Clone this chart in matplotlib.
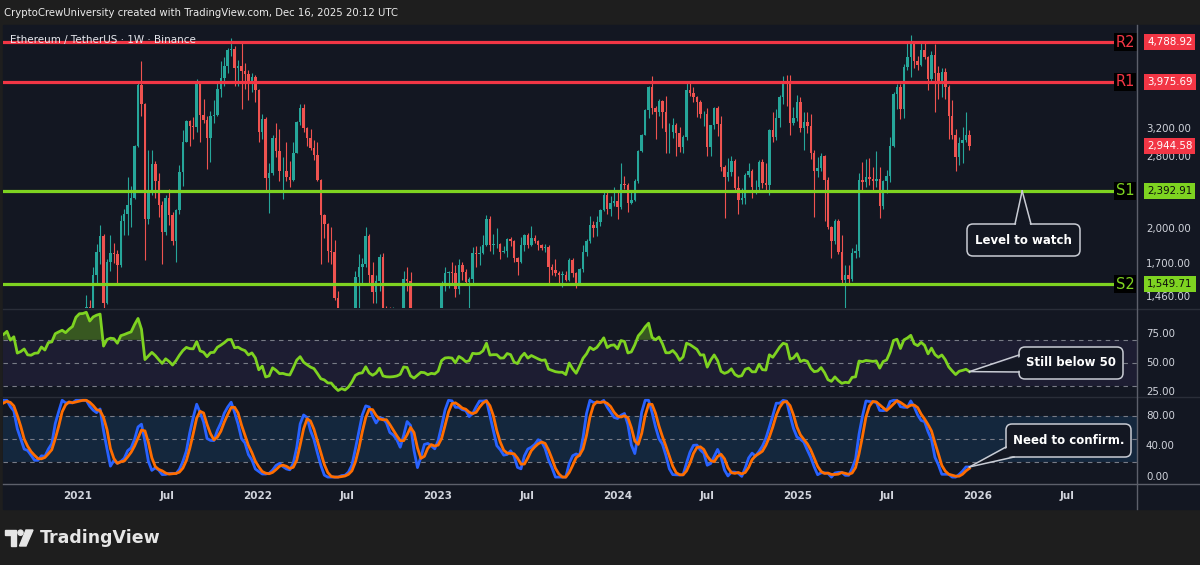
import numpy as np
import pandas as pd
import matplotlib
matplotlib.use("Agg")
import matplotlib.pyplot as plt
import matplotlib.dates as mdates
import matplotlib.transforms as mtransforms
from matplotlib.patches import Rectangle, Polygon, Circle, FancyBboxPatch
from matplotlib.lines import Line2D

# ETH/USDT weekly candles (Binance, 1W), one value per week, weeks start Monday 2019-07-01
first_open = 290.0

close_2019 = [307, 227, 217, 206, 222, 208, 195, 186, 178, 181,
              197, 211, 168, 170, 187, 172, 184, 186, 187, 181,
              151, 151, 148, 132, 132, 134, 136]
high_2019 = [320, 315, 240, 225, 235, 240, 215, 200, 195, 185,
             200, 225, 215, 185, 195, 195, 195, 190, 192, 190,
             184, 160, 155, 149, 135, 137, 145]
low_2019 = [285, 215, 200, 200, 203, 205, 180, 180, 172, 165,
            175, 194, 155, 164, 165, 168, 160, 176, 180, 178,
            140, 139, 142, 130, 117, 126, 128]

close_2020 = [146, 170, 167, 189, 223, 267, 262, 218, 201, 124,
              131, 131, 143, 158, 171, 197, 211, 187, 199, 202,
              231, 244, 233, 231, 225, 241, 239, 236, 310, 385,
              395, 428, 396, 428, 353, 365, 385, 355, 353, 366,
              368, 409, 396, 454, 461, 550, 575, 599, 589, 639,
              685, 975]
high_2020 = [149, 175, 172, 190, 229, 289, 288, 280, 252, 208,
             150, 145, 150, 177, 188, 200, 227, 216, 206, 215,
             244, 252, 250, 241, 247, 243, 249, 245, 320, 415,
             405, 445, 445, 480, 488, 378, 395, 385, 365, 378,
             394, 420, 420, 462, 480, 560, 620, 635, 600, 678,
             690, 1010]
low_2020 = [134, 143, 157, 160, 186, 217, 248, 212, 200, 90,
            110, 125, 128, 140, 150, 167, 187, 178, 177, 193,
            199, 222, 230, 222, 220, 223, 234, 230, 235, 305,
            365, 368, 375, 376, 308, 332, 352, 310, 336, 332,
            357, 363, 370, 380, 440, 458, 480, 562, 530, 581,
            560, 660]

close_2021 = [1230, 1250, 1390, 1315, 1615, 1800, 1935, 1416, 1720, 1795,
              1785, 1690, 2080, 2150, 2240, 2320, 2950, 3920, 3580, 2100,
              2390, 2710, 2510, 2240, 1980, 2320, 2140, 1895, 2190, 2610,
              3010, 3310, 3240, 3230, 3930, 3410, 3330, 3060, 3390, 3410,
              3850, 4050, 4290, 4610, 4630, 4240, 4290, 4190, 4130, 3930,
              4060, 3830]
high_2021 = [1350, 1290, 1475, 1440, 1680, 1870, 2040, 1960, 1740, 1950,
             1875, 1820, 2140, 2200, 2550, 2450, 2960, 3980, 4380, 3600,
             2900, 2900, 2750, 2600, 2280, 2350, 2410, 2170, 2200, 2700,
             3180, 3330, 3330, 3370, 4030, 3970, 3680, 3400, 3480, 3650,
             3950, 4380, 4460, 4650, 4870, 4700, 4400, 4780, 4350, 4200,
             4150, 4100]
low_2021 = [880, 960, 1040, 1220, 1300, 1550, 1700, 1300, 1410, 1650,
            1710, 1550, 1680, 1950, 1950, 2020, 2300, 2930, 3400, 1730,
            2050, 2350, 2320, 2120, 1700, 1950, 2040, 1860, 1720, 2150,
            2450, 3000, 2950, 3050, 3150, 3000, 3280, 2650, 2740, 3280,
            3400, 3700, 3900, 4150, 4480, 3900, 3900, 3500, 3850, 3650,
            3800, 3630]

close_2022 = [3150, 3350, 2540, 2600, 3060, 2880, 2620, 2630, 2550, 2520,
              2860, 3300, 3520, 3210, 3060, 2920, 2830, 2520, 2140, 2050,
              1810, 1800, 1450, 1130, 1200, 1070, 1170, 1350, 1600, 1680,
              1700, 1940, 1620, 1490, 1570, 1760, 1340, 1290, 1280, 1290,
              1310, 1360, 1590, 1570, 1220, 1110, 1195, 1280, 1265, 1185,
              1220, 1200]
high_2022 = [3850, 3420, 3370, 2720, 3100, 3280, 3200, 2800, 3000, 2750,
             3000, 3320, 3580, 3580, 3220, 3190, 3030, 3000, 2530, 2150,
             2060, 2020, 1900, 1500, 1280, 1240, 1280, 1360, 1650, 1780,
             1750, 2020, 1960, 1720, 1620, 1780, 1790, 1400, 1390, 1390,
             1340, 1370, 1650, 1680, 1640, 1290, 1230, 1310, 1300, 1350,
             1230, 1230]
low_2022 = [3000, 3050, 2400, 2160, 2580, 2800, 2500, 2300, 2500, 2440,
            2500, 2850, 3250, 3150, 2950, 2900, 2760, 2500, 1700, 1920,
            1720, 1700, 1440, 880, 1050, 1000, 1050, 1000, 1300, 1350,
            1560, 1680, 1550, 1420, 1420, 1500, 1320, 1220, 1270, 1260,
            1190, 1270, 1340, 1500, 1070, 1080, 1070, 1150, 1230, 1150,
            1150, 1180]

close_2023 = [1265, 1550, 1630, 1640, 1630, 1515, 1690, 1640, 1565, 1590,
              1790, 1780, 1790, 1860, 2100, 1860, 1870, 1870, 1800, 1805,
              1910, 1890, 1750, 1720, 1860, 1950, 1860, 1920, 1890, 1860,
              1835, 1845, 1680, 1655, 1630, 1620, 1620, 1580, 1735, 1635,
              1555, 1660, 1800, 1890, 2045, 2010, 2065, 2190, 2350, 2200,
              2265, 2280]
high_2023 = [1300, 1570, 1680, 1650, 1720, 1690, 1740, 1720, 1660, 1600,
             1840, 1850, 1850, 1950, 2140, 2130, 1960, 2010, 1880, 1850,
             1920, 1930, 1900, 1760, 1930, 1960, 1970, 2030, 1950, 1900,
             1870, 1870, 1860, 1700, 1740, 1650, 1650, 1650, 1750, 1750,
             1640, 1670, 1860, 1910, 2130, 2080, 2130, 2200, 2400, 2400,
             2340, 2440]
low_2023 = [1190, 1260, 1500, 1520, 1540, 1460, 1480, 1580, 1540, 1370,
            1560, 1680, 1690, 1780, 1850, 1810, 1780, 1830, 1740, 1790,
            1760, 1850, 1720, 1620, 1710, 1810, 1830, 1850, 1880, 1820,
            1820, 1800, 1550, 1620, 1610, 1550, 1530, 1570, 1570, 1600,
            1520, 1540, 1640, 1770, 1880, 1930, 1940, 2030, 2180, 2150,
            2130, 2230]

close_2024 = [2220, 2470, 2455, 2260, 2290, 2500, 2880, 3110, 3490, 3880,
              3520, 3450, 3640, 3450, 3150, 3150, 3260, 3140, 2930, 3070,
              3830, 3780, 3700, 3620, 3420, 3430, 2930, 3250, 3520, 3270,
              2680, 2550, 2610, 2750, 2420, 2290, 2320, 2580, 2630, 2440,
              2440, 2740, 2480, 2460, 3180, 3070, 3360, 3710, 4000, 3960,
              3280, 3360, 3630]
high_2024 = [2400, 2720, 2560, 2480, 2390, 2530, 2890, 3120, 3500, 3900,
             4090, 3560, 3680, 3650, 3730, 3280, 3360, 3290, 3220, 3100,
             3950, 3980, 3890, 3720, 3660, 3480, 3520, 3260, 3530, 3560,
             3400, 2700, 2790, 2820, 2770, 2560, 2430, 2600, 2730, 2650,
             2520, 2760, 2770, 2720, 3190, 3450, 3500, 3740, 4090, 4110,
             4100, 3530, 3740]
low_2024 = [2100, 2200, 2410, 2170, 2250, 2280, 2480, 2870, 3100, 3360,
            3420, 3050, 3400, 3210, 2850, 2860, 3060, 2820, 2870, 2860,
            3040, 3730, 3630, 3370, 3360, 3240, 2810, 2820, 3200, 3090,
            2630, 2110, 2510, 2560, 2400, 2150, 2250, 2250, 2550, 2310,
            2360, 2400, 2430, 2400, 2350, 3010, 3030, 3230, 3580, 3550,
            3100, 3250, 3310]

close_2025 = [3210, 3300, 3240, 2850, 2630, 2660, 2820, 2520, 2020, 1890,
              2080, 1800, 1580, 1620, 1590, 1790, 1810, 2520, 2490, 2550,
              2530, 2510, 2530, 2230, 2500, 2570, 2950, 3760, 3880, 3500,
              4260, 4470, 4780, 4390, 4300, 4610, 4470, 4040, 4510, 4150,
              3980, 4160, 3880, 3400, 3100, 2800, 2990, 3040, 3100, 2944.58]
high_2025 = [3700, 3450, 3460, 3430, 2900, 2800, 2850, 2830, 2550, 2030,
             2100, 2100, 1950, 1690, 1690, 1830, 1870, 2600, 2740, 2780,
             2790, 2680, 2880, 2680, 2520, 2640, 3070, 3800, 3940, 3940,
             4330, 4790, 4950, 4800, 4490, 4770, 4770, 4480, 4590, 4750,
             4290, 4250, 4250, 3920, 3650, 3200, 3070, 3230, 3450, 3180]
low_2025 = [3150, 2900, 3130, 2780, 2120, 2550, 2620, 2080, 2000, 1750,
            1870, 1780, 1540, 1385, 1560, 1570, 1750, 1760, 2400, 2440,
            2460, 2380, 2440, 2110, 2200, 2370, 2490, 2940, 3500, 3350,
            3360, 4200, 4060, 4250, 4200, 4290, 4420, 3830, 4000, 3450,
            3680, 3700, 3680, 3050, 3050, 2620, 2700, 2720, 3000, 2900]

level_names = ["R2", "R1", "S1", "S2"]
level_values = [4788.92, 3975.69, 2392.91, 1549.71]
last_price = 2944.58

price_ticks = [3200, 2800, 2000, 1700, 1460]
rsi_ticks = [75, 50, 25]
stoch_ticks = [80, 40, 0]
time_tick_dates = ["2021-01-01", "2021-07-01", "2022-01-01", "2022-07-01",
                   "2023-01-01", "2023-07-01", "2024-01-01", "2024-07-01",
                   "2025-01-01", "2025-07-01", "2026-01-01", "2026-07-01"]
time_tick_labels = ["2021", "Jul", "2022", "Jul", "2023", "Jul",
                    "2024", "Jul", "2025", "Jul", "2026", "Jul"]

closes = close_2019 + close_2020 + close_2021 + close_2022 + close_2023 + close_2024 + close_2025
highs = high_2019 + high_2020 + high_2021 + high_2022 + high_2023 + high_2024 + high_2025
lows = low_2019 + low_2020 + low_2021 + low_2022 + low_2023 + low_2024 + low_2025
opens = [first_open] + closes[:-1]
dates = pd.date_range("2019-07-01", periods=len(closes), freq="7D")

# indicators: RSI(14) and Stoch RSI(3, 3, 14, 14)
c = pd.Series(closes, dtype=float)
diff = c.diff()
gain = diff.clip(lower=0).ewm(alpha=1 / 14, adjust=False).mean()
loss = (-diff.clip(upper=0)).ewm(alpha=1 / 14, adjust=False).mean()
rsi = 100 - 100 / (1 + gain / loss)
rsi_lo = rsi.rolling(14).min()
rsi_hi = rsi.rolling(14).max()
stoch_k = (100 * (rsi - rsi_lo) / (rsi_hi - rsi_lo)).rolling(3).mean()
stoch_d = stoch_k.rolling(3).mean()

# colours
FRAME = "#1e1e1e"
BG = "#131722"
TXT = "#d1d4dc"
UP = "#26a69a"
DOWN = "#ef5350"
RED = "#f23645"
GREEN = "#7ed321"
EDGE = "#c9ccd4"

W, H = 1200, 565


def fx(px):
    return px / W


def fy(py):
    return 1 - py / H


fig = plt.figure(figsize=(12, 5.65), dpi=100, facecolor=FRAME)
PX = mtransforms.Affine2D().scale(1 / W, -1 / H).translate(0, 1) + fig.transFigure

fig.patches.append(Rectangle((3, 25), 1197, 484, transform=PX, color=BG, zorder=-5))

ax_p = fig.add_axes([fx(3), fy(308), fx(1134), fy(25) - fy(308)])
ax_r = fig.add_axes([fx(3), fy(397), fx(1134), fy(310) - fy(397)], sharex=ax_p)
ax_s = fig.add_axes([fx(3), fy(484), fx(1134), fy(398) - fy(484)], sharex=ax_p)
for ax in (ax_p, ax_r, ax_s):
    ax.set_facecolor("none")
    for sp in ax.spines.values():
        sp.set_visible(False)

x_left, x_right = pd.Timestamp("2020-08-02"), pd.Timestamp("2026-11-20")

# price pane
ax_p.set_yscale("log")
ax_p.set_ylim(1386, 5186)
ax_p.set_xlim(x_left, x_right)
cols = [UP if cl >= op else DOWN for op, cl in zip(opens, closes)]
o = np.array(opens)
cl = np.array(closes)
ax_p.vlines(dates, lows, highs, colors=cols, linewidth=0.8, zorder=2)
ax_p.bar(dates, np.maximum(np.abs(cl - o), 1), bottom=np.minimum(o, cl), width=5.0,
         color=cols, linewidth=0, zorder=2)
ax_p.xaxis.set_visible(False)
ax_p.yaxis.set_visible(False)

tp = mtransforms.blended_transform_factory(fig.transFigure, ax_p.transData)
for t in price_ticks:
    ax_p.text(fx(1146), t, f"{t:,.2f}", transform=tp, color=TXT, fontsize=7.4,
              va="center", ha="left", clip_on=False)

for name, val in zip(level_names, level_values):
    col = RED if name.startswith("R") else GREEN
    ax_p.axhline(val, xmin=0, xmax=(1113 - 3) / 1134, color=col, lw=2.3, zorder=3)
    ax_p.text(fx(1125), val, name, transform=tp, color=col, fontsize=10.5,
              ha="center", va="center", clip_on=False, zorder=6,
              bbox=dict(boxstyle="square,pad=0.12", fc="#000000", ec="none"))
    ax_p.text(fx(1147), val, f"{val:,.2f}", transform=tp,
              color="white" if col == RED else "#0c0c0c", fontsize=7.4,
              ha="left", va="center", clip_on=False, zorder=6,
              bbox=dict(boxstyle="square,pad=0.3", fc=col, ec="none"))

ax_p.text(fx(1147), last_price, f"{last_price:,.2f}", transform=tp, color="white",
          fontsize=7.4, ha="left", va="center", clip_on=False, zorder=6,
          bbox=dict(boxstyle="square,pad=0.3", fc=RED, ec="none"))

ax_p.text(fx(10), fy(40), "Ethereum / TetherUS \u00b7 1W \u00b7 Binance",
          transform=fig.transFigure, color="#e6e8ee", fontsize=7.5, va="center",
          ha="left", zorder=7)

# RSI pane
ax_r.set_ylim(20.7, 95.7)
ax_r.axhspan(30, 70, color="#7e57c2", alpha=0.1, lw=0)
for v in (70, 50, 30):
    ax_r.axhline(v, color="#787b86", lw=0.8, ls=(0, (4, 4)))
ax_r.fill_between(dates, 70, rsi, where=rsi > 70, interpolate=True,
                  color=GREEN, alpha=0.35, lw=0)
ax_r.plot(dates, rsi, color=GREEN, lw=2)
ax_r.xaxis.set_visible(False)
ax_r.yaxis.set_visible(False)
tr = mtransforms.blended_transform_factory(fig.transFigure, ax_r.transData)
for t in rsi_ticks:
    ax_r.text(fx(1146), t, f"{t:.2f}", transform=tr, color=TXT, fontsize=7.4,
              va="center", ha="left", clip_on=False)

# Stoch RSI pane
ax_s.set_ylim(-9, 103)
ax_s.axhspan(20, 80, color="#2196f3", alpha=0.13, lw=0)
for v in (80, 50, 20):
    ax_s.axhline(v, color="#787b86", lw=0.8, ls=(0, (4, 4)))
ax_s.plot(dates, stoch_k, color="#2962ff", lw=2)
ax_s.plot(dates, stoch_d, color="#ff6d00", lw=2)
ax_s.yaxis.set_visible(False)
ax_s.set_xticks(pd.to_datetime(time_tick_dates))
ax_s.set_xticklabels(time_tick_labels, fontweight="bold")
ax_s.tick_params(axis="x", length=0, colors=TXT, labelsize=7.5, pad=5)
ts = mtransforms.blended_transform_factory(fig.transFigure, ax_s.transData)
for t in stoch_ticks:
    ax_s.text(fx(1146), t, f"{t:.2f}", transform=ts, color=TXT, fontsize=7.4,
              va="center", ha="left", clip_on=False)

# pane separators and scale border
for yy, cc in [(309, "#2a2e39"), (397, "#2a2e39"), (484, "#5d606b")]:
    fig.add_artist(Line2D([3, 1200], [yy, yy], transform=PX, color=cc, lw=1))
fig.add_artist(Line2D([1137, 1137], [25, 509], transform=PX, color="#5d606b", lw=1))


# callouts: box in pixels, tail tip at a data point
def callout(ax, xy, box, base, text):
    x0, y0, x1, y1 = box
    dx, dy = ax.transData.transform((mdates.date2num(xy[0]), xy[1]))
    tip = (dx, H - dy)
    fig.patches.append(FancyBboxPatch((x0, y0), x1 - x0, y1 - y0,
                                      boxstyle="round,pad=0,rounding_size=6",
                                      transform=PX, fc=BG, ec=EDGE, lw=1.1, zorder=10))
    (bx0, by0), (bx1, by1) = base
    # push the base a bit inside the box so it hides the border there
    cxm, cym = (x0 + x1) / 2, (y0 + y1) / 2
    inner = [(bx0 + 0.08 * (cxm - bx0), by0 + 0.15 * (cym - by0)),
             (bx1 + 0.08 * (cxm - bx1), by1 + 0.15 * (cym - by1))]
    fig.patches.append(Polygon([inner[0], tip, inner[1]], closed=True, transform=PX,
                               fc=BG, ec="none", zorder=11))
    for bx, by in base:
        fig.add_artist(Line2D([bx, tip[0]], [by, tip[1]], transform=PX, color=EDGE,
                              lw=1.1, zorder=12))
    fig.text(fx(cxm), fy(cym), text, color="white", fontsize=8.5, fontweight="bold",
             ha="center", va="center", zorder=13)


callout(ax_p, (pd.Timestamp("2026-04-01"), level_values[2]), (967, 224, 1080, 256),
        [(1015, 224), (1031, 224)], "Level to watch")
callout(ax_r, (dates[-1], rsi.iloc[-1]), (1019, 347, 1123, 379),
        [(1019, 355), (1019, 372)], "Still below 50")
callout(ax_s, (dates[-1], stoch_k.iloc[-1]), (1006, 424, 1131, 457),
        [(1006, 447), (1014, 457)], "Need to confirm.")

# header and footer
fig.text(fx(4), fy(13), "CryptoCrewUniversity created with TradingView.com, Dec 16, 2025 20:12 UTC",
         color="#ececec", fontsize=7.3, va="center", ha="left")

fig.patches.append(Polygon([(5, 530), (16, 530), (16, 546), (11, 546), (11, 535), (5, 535)],
                           closed=True, transform=PX, color="#e6e6e6"))
fig.patches.append(Circle((20.5, 532.7), 2.6, transform=PX, color="#e6e6e6"))
fig.patches.append(Polygon([(26, 530), (33, 530), (26, 546), (19.5, 546)],
                           closed=True, transform=PX, color="#e6e6e6"))
fig.text(fx(40), fy(538), "TradingView", color="#e6e6e6", fontsize=12.5,
         fontweight="bold", va="center", ha="left")

fig.savefig("out.png", dpi=100, facecolor=FRAME)
